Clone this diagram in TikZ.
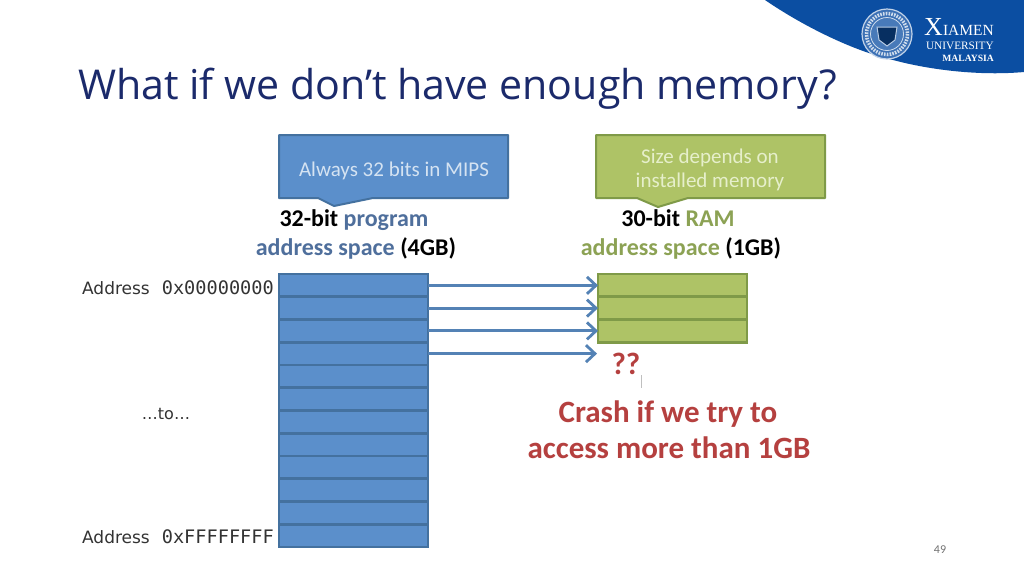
\documentclass[tikz,border=0pt]{standalone}
\usepackage{fontspec}
\setmainfont{Carlito}
\newfontfamily\titlefont{Open Sans}
\newfontfamily\addrsans{DejaVu Sans}
\newfontfamily\addrmono{DejaVu Sans Mono}
\newfontfamily\logofont{Liberation Serif}
\usetikzlibrary{arrows.meta}
\definecolor{banner}{HTML}{0B4EA2}
\definecolor{titleblue}{HTML}{1B2A6B}
\definecolor{bfill}{HTML}{5B8FCB}
\definecolor{bline}{HTML}{44719F}
\definecolor{gfill}{HTML}{AEC366}
\definecolor{gline}{HTML}{7F9A48}
\definecolor{blab}{HTML}{4F6F9C}
\definecolor{glab}{HTML}{8CA254}
\definecolor{crash}{HTML}{B5403F}
\definecolor{btext}{HTML}{D5E3F2}
\definecolor{gtext}{HTML}{E6EFCB}
\definecolor{addr}{HTML}{333333}
\definecolor{arrowc}{HTML}{5482B5}
\tikzset{
  bcell/.style={draw=bline,fill=bfill,line width=2.6pt,minimum width=149pt,minimum height=22.75pt,anchor=north west,inner sep=0pt,outer sep=0pt},
  gcell/.style={draw=gline,fill=gfill,line width=2.6pt,minimum width=149pt,minimum height=22.75pt,anchor=north west,inner sep=0pt,outer sep=0pt},
  callb/.style={draw=bline,fill=bfill,line width=2pt,line join=round},
  callg/.style={draw=gline,fill=gfill,line width=2pt,line join=round},
  lab/.style={font=\fontsize{24}{28}\selectfont\bfseries,inner sep=0pt,anchor=base},
  addrlab/.style={inner sep=0pt,text=addr,anchor=base east},
  maparrow/.style={draw=arrowc,line width=3pt,-{Straight Barb[length=9pt,width=17pt,line width=2.8pt]}},
  crashlab/.style={font=\fontsize{31}{34}\selectfont\bfseries,text=crash,inner sep=0pt,anchor=base},
  logot/.style={text=white,inner sep=0pt,anchor=base east}
}
\newcommand{\addrtext}[1]{{\addrsans\fontsize{17}{20}\selectfont Address}\hspace{12pt}{\addrmono\fontsize{18.6}{20}\selectfont #1}}
\begin{document}
\begin{tikzpicture}[x=1pt,y=-1pt]
\useasboundingbox (0,0) rectangle (1024,574);
\fill[white] (0,0) rectangle (1024,574);
% banner
\fill[banner] (765,0) .. controls (800,24) and (850,50) .. (893,60) .. controls (930,70) and (980,76) .. (1024,72) -- (1024,0) -- cycle;
% seal
\draw[white!75!banner,line width=1.2pt,fill=banner!80!white] (887,34) circle (25);
\draw[white!80!banner,line width=3.5pt,dash pattern=on 1.6pt off 1.2pt] (887,34) circle (20.5);
\draw[white!80!banner,line width=0.8pt,fill=banner!75!white] (887,34) circle (16.5);
\draw[white!70!banner,line width=1pt,fill=banner!60!black] (877,27) -- (897,27) -- (895,40) -- (887,46) -- (879,40) -- cycle;
% logo text
\node[logot] (lx) at (994,35.5) {\logofont\fontsize{26}{28}\selectfont X\fontsize{15.5}{16}\selectfont IAMEN};
\node[logot] (lu) at (994,49) {\logofont\fontsize{11.3}{13}\selectfont UNIVERSITY};
\node[logot] (lm) at (994,61) {\logofont\bfseries\fontsize{9.6}{11}\selectfont MALAYSIA};
% title
\node[inner sep=0pt,anchor=base west,text=titleblue] (title) at (78,99) {\titlefont\fontsize{41.1}{46}\selectfont What if we don’t have enough memory?};
% callouts
\draw[callb] (279,135) -- (508,135) -- (508,198) -- (373,198) -- (334,206) -- (318,198) -- (279,198) -- cycle;
\node[text=btext,inner sep=0pt,font=\fontsize{21}{25}\selectfont] (cb) at (394,170.5) {Always 32 bits in MIPS};
\draw[callg] (596,135) -- (825,135) -- (825,198) -- (688,198) -- (658,207) -- (637,198) -- (596,198) -- cycle;
\node[text=gtext,inner sep=0pt,font=\fontsize{21}{25}\selectfont,align=center] (cg) at (710,170) {Size depends on\\[-1pt]installed memory};
% labels
\node[lab] (l1) at (354,226) {32-bit \textcolor{blab}{program}};
\node[lab] (l2) at (356,255) {\textcolor{blab}{address space} (4GB)};
\node[lab] (l3) at (678,226) {30-bit \textcolor{glab}{RAM}};
\node[lab] (l4) at (681,255) {\textcolor{glab}{address space} (1GB)};
% stacks
\foreach \i in {1,...,12} \node[bcell] (b\i) at (279,{274+22.75*(\i-1)}) {};
\foreach \i in {1,2,3} \node[gcell] (g\i) at (598,{274+22.75*(\i-1)}) {};
\coordinate (g4) at (597,353.625);
% arrows
\draw[maparrow] (b1.east) -- (g1.west);
\draw[maparrow] (b2.east) -- (g2.west);
\draw[maparrow] (b3.east) -- (g3.west);
\draw[maparrow] (b4.east) -- (g4);
% address labels
\node[addrlab] (a1) at (274,294) {\addrtext{0x00000000}};
\node[addrlab] (a2) at (274,543) {\addrtext{0xFFFFFFFF}};
\node[inner sep=0pt,text=addr,anchor=base] (a3) at (166,419) {\addrsans\fontsize{16}{20}\selectfont …to…};
% crash
\node[crashlab] (q) at (626,374) {??};
\draw[black!25,line width=1pt] (641,375) -- (641,388);
\node[crashlab] (c1) at (668,422) {Crash if we try to};
\node[crashlab] (c2) at (669,458) {access more than 1GB};
% page number
\node[inner sep=0pt,text=black!55,font=\fontsize{12}{14}\selectfont] (pn) at (940,550) {49};
\end{tikzpicture}
\end{document}
